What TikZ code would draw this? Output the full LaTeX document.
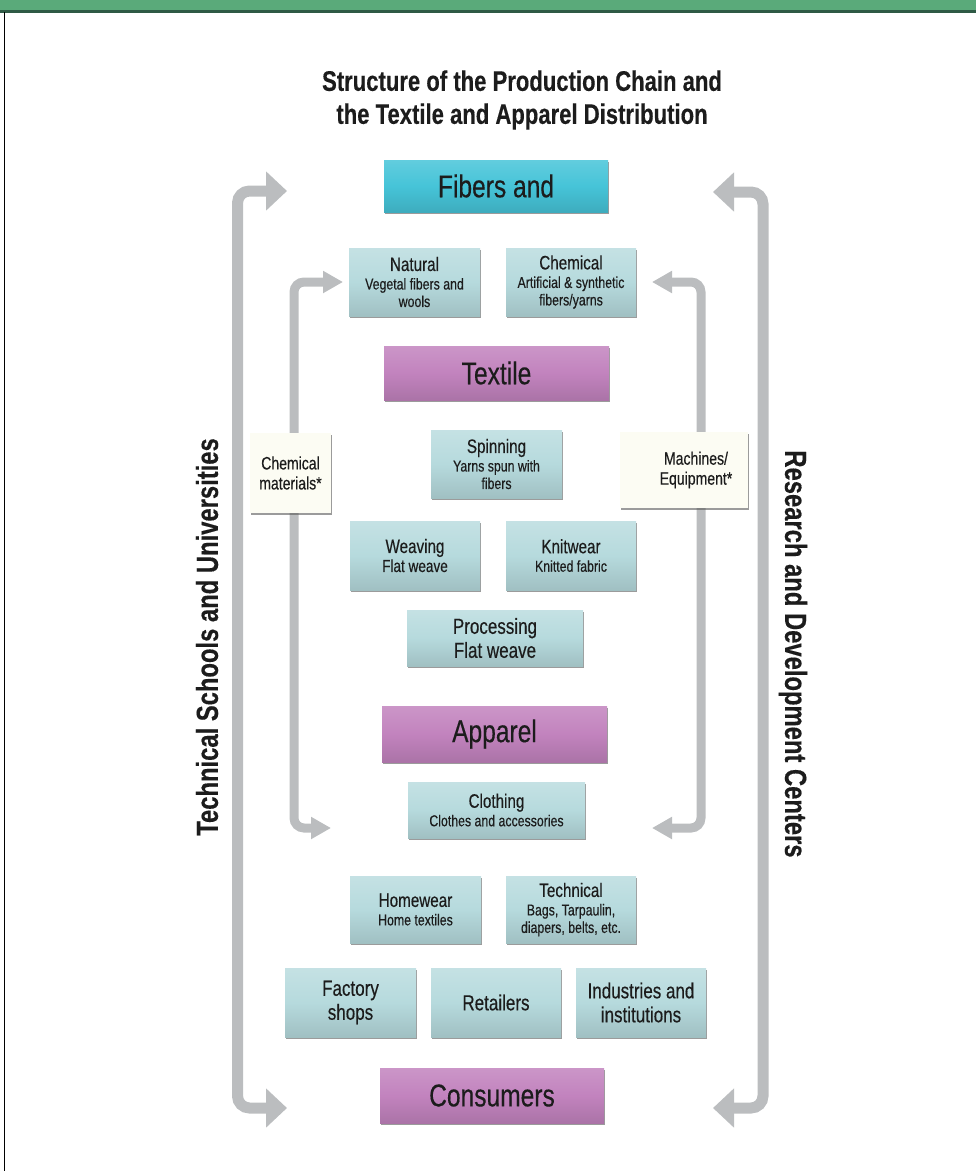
\documentclass[tikz,border=0pt]{standalone}
\usepackage{fontspec}
\setmainfont{Liberation Sans}[FakeStretch=0.78,FakeBold=0.35]
\usetikzlibrary{arrows.meta,shadows}

\definecolor{barGreen}{HTML}{5AAA7A}
\definecolor{barDark}{HTML}{2F5A45}
\definecolor{fiberCyan}{HTML}{46C4D8}
\definecolor{stagePurple}{HTML}{C283BE}
\definecolor{itemBlue}{HTML}{B6DADD}
\definecolor{inputIvory}{HTML}{FCFCF3}
\definecolor{flowGray}{HTML}{BBBDBF}
\definecolor{inkDark}{HTML}{1C1C1C}

\newcommand{\fs}[2]{\fontsize{#1}{#2}\selectfont}
\newcommand{\hs}[2]{{\fs{19.5}{20}#1}\\[1pt]#2}

\tikzset{
  box/.style={rectangle, inner sep=0pt, align=center, text=inkDark,
    drop shadow={shadow xshift=1.2pt, shadow yshift=-2.4pt, fill=black!65, opacity=.6}},
  stage/.style={box, top color=stagePurple!85!white, bottom color=stagePurple!88!black,
    middle color=stagePurple, font=\fs{31.5}{34}},
  fiberhead/.style={box, top color=fiberCyan!85!white, bottom color=fiberCyan!88!black,
    middle color=fiberCyan, font=\fs{31.5}{34}},
  item/.style={box, top color=itemBlue!80!white, bottom color=itemBlue!88!black,
    middle color=itemBlue, font=\fs{15.8}{17.5}},
  inputbox/.style={box, fill=inputIvory, font=\fs{18}{20}},
  outerflow/.style={draw=flowGray, line width=11pt, rounded corners=12pt,
    {Triangle[length=21pt,width=38pt]}-{Triangle[length=21pt,width=38pt]}},
  innerflow/.style={draw=flowGray, line width=9pt, rounded corners=10pt,
    {Triangle[length=20pt,width=21pt]}-{Triangle[length=20pt,width=21pt]}},
  sidelabel/.style={font=\bfseries\fs{30.5}{32}, text=inkDark},
}

\begin{document}
\begin{tikzpicture}[x=1pt,y=-1pt]
\useasboundingbox (0,0) rectangle (976,1171);

% page frame
\fill[barGreen] (0,0) rectangle (976,10);
\fill[barDark] (0,10) rectangle (976,12.5);
\fill[black] (3.5,12) rectangle (5,1171);

% heading
\node[font=\bfseries\fs{28.3}{33}, text=inkDark, align=center] (title) at (522,100)
  {Structure of the Production Chain and\\the Textile and Apparel Distribution};

% flow arrows (behind the boxes)
\coordinate (oLT) at (287,191);
\coordinate (oLB) at (287,1108);
\coordinate (oRT) at (713,192);
\coordinate (oRB) at (713,1108);
\coordinate (iLT) at (343,282);
\coordinate (iLB) at (331,828);
\coordinate (iRT) at (652,282);
\coordinate (iRB) at (652,828);
\draw[outerflow] (oLT) -| (237.5,650) |- (oLB);
\draw[outerflow] (oRT) -| (763,650) |- (oRB);
\draw[innerflow] (iLT) -| (294,550) |- (iLB);
\draw[innerflow] (iRT) -| (701,550) |- (iRB);

% side labels
\node[sidelabel, rotate=90] (schools) at (207,637) {Technical Schools and Universities};
\node[sidelabel, rotate=-90] (research) at (793,654) {Research and Development Centers};

% fibers
\node[fiberhead, minimum width=224pt, minimum height=52pt] (fib) at (496,186) {Fibers and};
\node[item, minimum width=131pt, minimum height=68pt] (nat) at (414.5,282)
  {\hs{Natural}{Vegetal fibers and\\wools}};
\node[item, minimum width=130pt, minimum height=68pt] (chem) at (571,282)
  {\hs{Chemical}{Artificial \& synthetic\\fibers/yarns}};

% textile
\node[stage, minimum width=225pt, minimum height=54pt] (tex) at (496.5,373) {Textile};
\node[inputbox, minimum width=81pt, minimum height=80pt] (cmat) at (290.5,473)
  {Chemical\\materials*};
\node[item, minimum width=131pt, minimum height=68pt] (spin) at (496.5,464)
  {\hs{Spinning}{Yarns spun with\\fibers}};
\node[inputbox, minimum width=128pt, minimum height=76pt] (mach) at (684,470)
  {\hspace*{24pt}Machines/\\\hspace*{24pt}Equipment*};
\node[item, minimum width=130pt, minimum height=69pt, font=\fs{17.4}{18}] (weav) at (415,555.5)
  {\hs{Weaving}{Flat weave}};
\node[item, minimum width=130pt, minimum height=69pt] (knit) at (571,555.5)
  {\hs{Knitwear}{Knitted fabric}};
\node[item, minimum width=176pt, minimum height=56pt, font=\fs{21.8}{24}] (proc) at (495,638)
  {Processing\\Flat weave};

% apparel
\node[stage, minimum width=225pt, minimum height=56pt] (app) at (494.5,734) {Apparel};
\node[item, minimum width=177pt, minimum height=56pt] (clo) at (496.5,810)
  {\hs{Clothing}{Clothes and accessories}};
\node[item, minimum width=131pt, minimum height=67pt] (home) at (415.5,909.5)
  {\hs{Homewear}{Home textiles}};
\node[item, minimum width=130pt, minimum height=67pt] (tech) at (571,909.5)
  {\hs{Technical}{Bags, Tarpaulin,\\diapers, belts, etc.}};

% distribution
\node[item, minimum width=131pt, minimum height=69pt, font=\fs{21.8}{24}] (fact) at (350.5,1002.5)
  {Factory\\shops};
\node[item, minimum width=130pt, minimum height=69pt, font=\fs{21.8}{24}] (ret) at (496,1002.5)
  {Retailers};
\node[item, minimum width=130pt, minimum height=69pt, font=\fs{21.8}{24}] (ind) at (641,1002.5)
  {Industries and\\institutions};
\node[stage, minimum width=224pt, minimum height=55pt] (cons) at (492,1095.5) {Consumers};
\end{tikzpicture}
\end{document}
